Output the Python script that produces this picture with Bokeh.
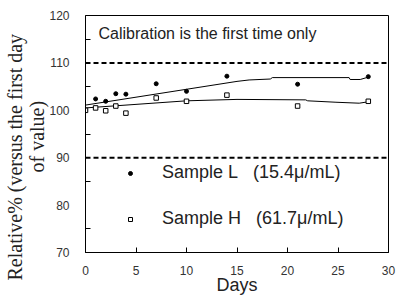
from bokeh.plotting import figure
from bokeh.models import Span, Label, Legend, LegendItem, FixedTicker, ColumnDataSource, Range1d, Title
from bokeh.embed import file_html
from bokeh.resources import INLINE

# ---- data ----
days = [0, 1, 2, 3, 4, 7, 10, 14, 21, 28]
sample_L = [100, 102.4, 101.9, 103.5, 103.4, 105.6, 104.0, 107.2, 105.5, 107.1]
sample_H = [100, 100.5, 99.9, 100.9, 99.4, 102.6, 101.9, 103.2, 100.9, 101.9]

trend_days_L = [0, 15, 16.2, 18.3, 18.5, 26.1, 26.2, 27.2, 28]
trend_L = [101.1, 106.1, 106.4, 106.6, 106.9, 106.9, 106.5, 106.5, 107.0]
trend_days_H = [0, 10, 15, 21.8, 22, 24.8, 27.1, 28]
trend_H = [100.5, 102.0, 102.3, 102.2, 102.0, 101.7, 101.5, 101.8]

limits = [110, 90]
x_ticks = [0, 5, 10, 15, 20, 25, 30]
y_ticks = [70, 80, 90, 100, 110, 120]
y_minor = [75, 85, 95, 105, 115]

NB = "\u00a0"
label_L = "Sample L" + NB * 3 + "(15.4\u03bc/mL)"
label_H = "Sample H" + NB * 3 + "(61.7\u03bc/mL)"
title_text = "Calibration is the first time only"
ylabel_1 = "Relative% (versus the first day"
ylabel_2 = "of value)"
xlabel = "Days"

p = figure(width=397, height=298, output_backend="svg", toolbar_location=None,
           x_range=Range1d(0, 30), y_range=Range1d(70, 120),
           min_border_left=85, min_border_right=9, min_border_top=15, min_border_bottom=46)
p.background_fill_color = "white"
p.border_fill_color = "white"
p.outline_line_color = "black"
p.outline_line_width = 1
p.xgrid.visible = False
p.ygrid.visible = False

for lv in limits:
    p.add_layout(Span(location=lv, dimension="width", line_color="black",
                      line_width=2, line_dash="5 3"))

p.line(trend_days_L, trend_L, line_color="black", line_width=1)
p.line(trend_days_H, trend_H, line_color="black", line_width=1)

srcL = ColumnDataSource(dict(x=days, y=sample_L))
srcH = ColumnDataSource(dict(x=days, y=sample_H))
rL = p.scatter("x", "y", source=srcL, marker="circle", size=4,
               fill_color="black", line_color="black", line_width=1)
rH = p.scatter("x", "y", source=srcH, marker="square", size=4.5,
               fill_color="white", line_color="black", line_width=1)

legend = Legend(items=[LegendItem(label=label_L, renderers=[rL]),
                       LegendItem(label=label_H, renderers=[rH])],
                location=(40, 23), orientation="vertical",
                background_fill_alpha=0, border_line_alpha=0,
                padding=0, margin=0, spacing=25,
                glyph_width=10, glyph_height=10, label_height=20,
                label_standoff=27,
                label_text_font="Liberation Sans", label_text_font_size="18px",
                label_text_color="#222222")
p.add_layout(legend, "center")

p.add_layout(Label(x=1.29, y=116.2, text=title_text, text_font="Liberation Sans",
                   text_font_size="16px", text_color="#222222",
                   text_baseline="alphabetic", text_align="left"))

# y axis title as two stacked side titles (inner line first); offset = start
# position measured upward from the frame bottom
for txt, off in [(ylabel_2, 80), (ylabel_1, -28)]:
    p.add_layout(Title(text=txt, align="left", offset=off, standoff=-2,
                       text_font="Liberation Serif", text_font_size="20px",
                       text_font_style="normal", text_color="#222222"), "left")

# x axis
xa = p.xaxis[0]
xa.ticker = FixedTicker(ticks=x_ticks)
xa.major_tick_in = 5
xa.major_tick_out = 0
xa.minor_tick_in = 0
xa.minor_tick_out = 0
xa.major_label_standoff = 13
xa.major_label_text_font = "Liberation Sans"
xa.major_label_text_font_size = "12px"
xa.major_label_text_color = "#333333"
xa.axis_label = xlabel
xa.axis_label_text_font = "Liberation Sans"
xa.axis_label_text_font_size = "18px"
xa.axis_label_text_font_style = "normal"
xa.axis_label_text_color = "#222222"
xa.axis_label_standoff = -3
xa.axis_line_color = "black"

# y axis
ya = p.yaxis[0]
ya.ticker = FixedTicker(ticks=y_ticks, minor_ticks=y_minor)
ya.major_tick_in = 0
ya.major_tick_out = 0
ya.minor_tick_in = 5
ya.minor_tick_out = 0
ya.major_label_standoff = 16
ya.major_label_text_font = "Liberation Sans"
ya.major_label_text_font_size = "12px"
ya.major_label_text_color = "#333333"
ya.axis_line_color = "black"

open("out.html", "w").write(file_html(p, INLINE))
